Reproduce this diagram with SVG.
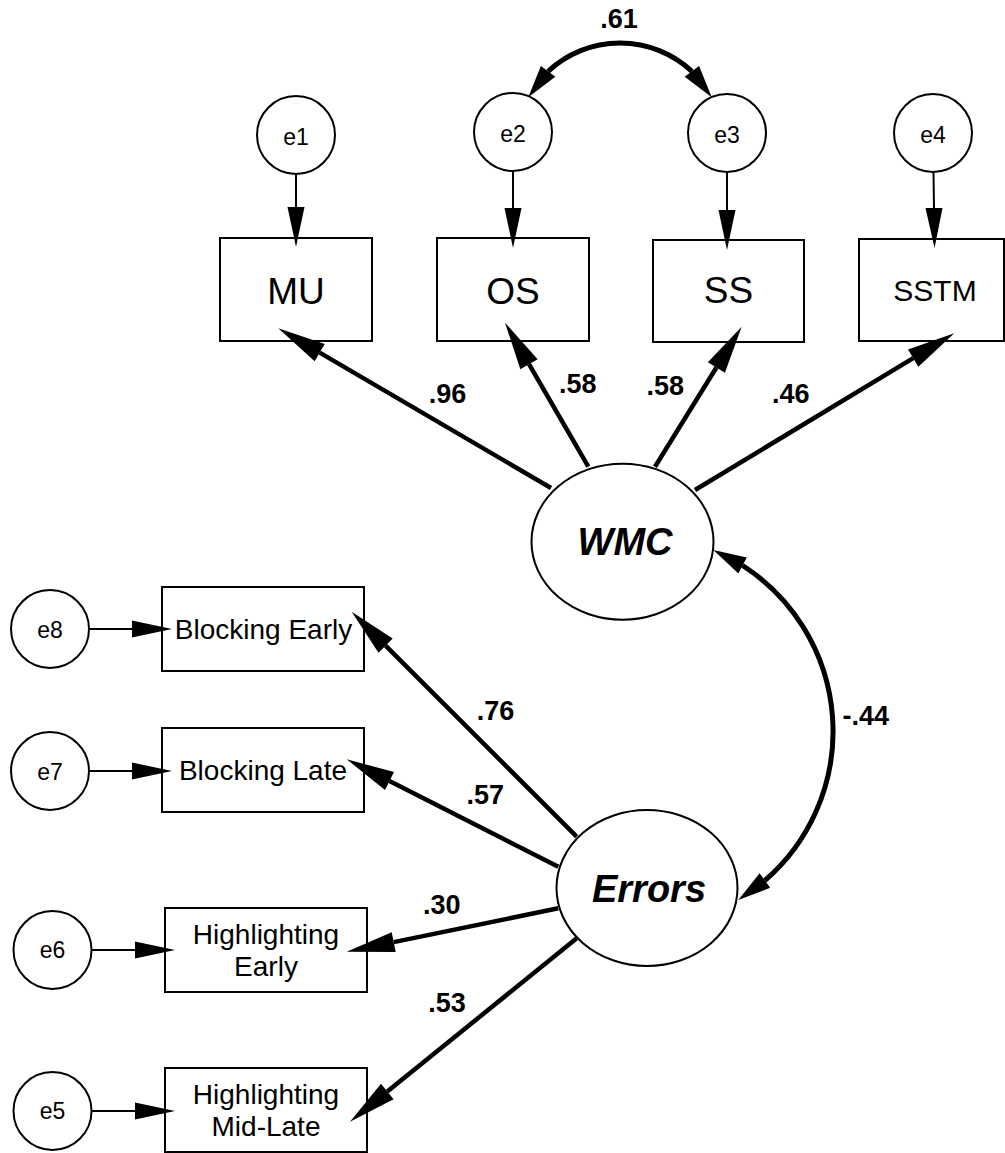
<svg xmlns="http://www.w3.org/2000/svg" width="1005" height="1153" viewBox="0 0 1005 1153">
<style>
  .box{fill:#fff;stroke:#000;stroke-width:2}
  .lat{fill:#fff;stroke:#000;stroke-width:2}
  .t{font-family:"Liberation Sans",Arial,sans-serif;fill:#000;text-anchor:middle}
  .e{font-size:23px}
  .big{font-size:37px}
  .mid{font-size:28px}
  .lv{font-size:38px;font-weight:bold;font-style:italic}
  .coef{font-size:27px;font-weight:bold}
  .thin{stroke:#000;stroke-width:2;fill:none}
  .thick{stroke:#000;stroke-width:4.5;fill:none}
  .curve{stroke:#000;stroke-width:5;fill:none}
  .head{fill:#000;stroke:none}
</style>
<defs>
  <marker id="ah" markerUnits="userSpaceOnUse" markerWidth="50" markerHeight="22" refX="0" refY="11" orient="auto" overflow="visible">
    <path d="M0,1 L48,11 L0,21 Z" fill="#000"/>
  </marker>
  <marker id="ahs" markerUnits="userSpaceOnUse" markerWidth="42" markerHeight="18" refX="0" refY="9" orient="auto" overflow="visible">
    <path d="M0,0.5 L40,9 L0,17.5 Z" fill="#000"/>
  </marker>
</defs>

<g id="e1"><circle class="lat" cx="296" cy="135" r="39"/><text class="t e" x="296" y="145">e1</text></g>
<g id="e2"><circle class="lat" cx="513" cy="132" r="39"/><text class="t e" x="513" y="142">e2</text></g>
<g id="e3"><circle class="lat" cx="727" cy="133" r="39"/><text class="t e" x="727" y="143">e3</text></g>
<g id="e4"><circle class="lat" cx="933" cy="133" r="39"/><text class="t e" x="933" y="143">e4</text></g>

<g id="MU"><rect class="box" x="220" y="238" width="152" height="103"/><text class="t big" x="296" y="304">MU</text></g>
<g id="OS"><rect class="box" x="437" y="238" width="152" height="103"/><text class="t big" x="513" y="304">OS</text></g>
<g id="SS"><rect class="box" x="653" y="240" width="151" height="102"/><text class="t big" x="728.5" y="303">SS</text></g>
<g id="SSTM"><rect class="box" x="859" y="239" width="145" height="102"/><text class="t" style="font-size:30px" x="935" y="301">SSTM</text></g>

<g id="WMC"><ellipse class="lat" cx="622.5" cy="541.7" rx="91" ry="78"/><text class="t lv" x="625" y="555">WMC</text></g>
<g id="Errors"><ellipse class="lat" cx="647" cy="888" rx="90.5" ry="78"/><text class="t lv" x="649" y="902">Errors</text></g>

<g id="e8"><circle class="lat" cx="50" cy="629" r="39"/><text class="t e" x="50" y="638">e8</text></g>
<g id="e7"><circle class="lat" cx="50" cy="771" r="39"/><text class="t e" x="50" y="780">e7</text></g>
<g id="e6"><circle class="lat" cx="52.5" cy="950" r="39"/><text class="t e" x="52.5" y="958">e6</text></g>
<g id="e5"><circle class="lat" cx="52.5" cy="1111" r="39"/><text class="t e" x="52.5" y="1119">e5</text></g>

<g id="BlockingEarly"><rect class="box" x="162" y="587" width="202" height="84"/><text class="t mid" x="263.5" y="639">Blocking Early</text></g>
<g id="BlockingLate"><rect class="box" x="162" y="728" width="202" height="84"/><text class="t mid" x="263" y="780">Blocking Late</text></g>
<g id="HighlightingEarly"><rect class="box" x="165" y="908" width="202" height="84"/><text class="t mid" x="266" y="944">Highlighting</text><text class="t mid" x="266" y="976">Early</text></g>
<g id="HighlightingMidLate"><rect class="box" x="165" y="1068" width="202" height="84"/><text class="t mid" x="266" y="1104">Highlighting</text><text class="t mid" x="266" y="1136">Mid-Late</text></g>

<g id="connectors">
  <!-- error arrows -->
  <line class="thin" x1="296" y1="174" x2="296" y2="207" marker-end="url(#ahs)"/>
  <line class="thin" x1="513" y1="171" x2="513" y2="208" marker-end="url(#ahs)"/>
  <line class="thin" x1="727" y1="172" x2="727" y2="210" marker-end="url(#ahs)"/>
  <line class="thin" x1="933.5" y1="172" x2="934" y2="208" marker-end="url(#ahs)"/>
  <line class="thin" x1="89" y1="629" x2="132" y2="629" marker-end="url(#ahs)"/>
  <line class="thin" x1="89" y1="771" x2="132" y2="771" marker-end="url(#ahs)"/>
  <line class="thin" x1="91.5" y1="950" x2="135" y2="950" marker-end="url(#ahs)"/>
  <line class="thin" x1="91.5" y1="1111" x2="135" y2="1111" marker-end="url(#ahs)"/>
  <!-- loadings WMC -->
  <line class="thick" x1="551" y1="488" x2="319.7" y2="352.6" marker-end="url(#ah)"/>
  <line class="thick" x1="588.3" y1="466.7" x2="529.0" y2="364.2" marker-end="url(#ah)"/>
  <line class="thick" x1="655" y1="466.7" x2="716.4" y2="367.5" marker-end="url(#ah)"/>
  <line class="thick" x1="695" y1="490" x2="913.2" y2="358.1" marker-end="url(#ah)"/>
  <!-- loadings Errors -->
  <line class="thick" x1="576.7" y1="836.7" x2="385.6" y2="645.6" marker-end="url(#ah)"/>
  <line class="thick" x1="558.3" y1="866.7" x2="389.5" y2="781.0" marker-end="url(#ah)"/>
  <line class="thick" x1="558.3" y1="908.3" x2="393.7" y2="942.1" marker-end="url(#ah)"/>
  <line class="thick" x1="576.7" y1="938.3" x2="387.3" y2="1091.5" marker-end="url(#ah)"/>
  <!-- covariance e2-e3 -->
  <path class="curve" d="M548.1,71.3 A105.4,105.4 0 0 1 691.9,71.3"/>
  <polygon class="head" points="528.3,97.3 555.3,76.7 540.9,65.9"/>
  <polygon class="head" points="711.7,97.3 684.7,76.7 699.1,65.9"/>
  <!-- covariance WMC-Errors -->
  <path class="curve" d="M742.6,565.5 A197.3,197.3 0 0 1 764.9,880.5"/>
  <polygon class="head" points="713.3,550 746.8,557.5 738.4,573.5"/>
  <polygon class="head" points="738.3,900 770.2,887.8 759.6,873.2"/>
  <!-- labels -->
  <text class="t coef" x="619" y="28">.61</text>
  <text class="t coef" x="447.5" y="403">.96</text>
  <text class="t coef" x="577.7" y="393">.58</text>
  <text class="t coef" x="665.3" y="395">.58</text>
  <text class="t coef" x="790.8" y="403">.46</text>
  <text class="t coef" x="495.5" y="720">.76</text>
  <text class="t coef" x="485.3" y="804">.57</text>
  <text class="t coef" x="441.8" y="914">.30</text>
  <text class="t coef" x="447" y="1012">.53</text>
  <text class="t coef" x="865.8" y="725">-.44</text>
</g>
</svg>
